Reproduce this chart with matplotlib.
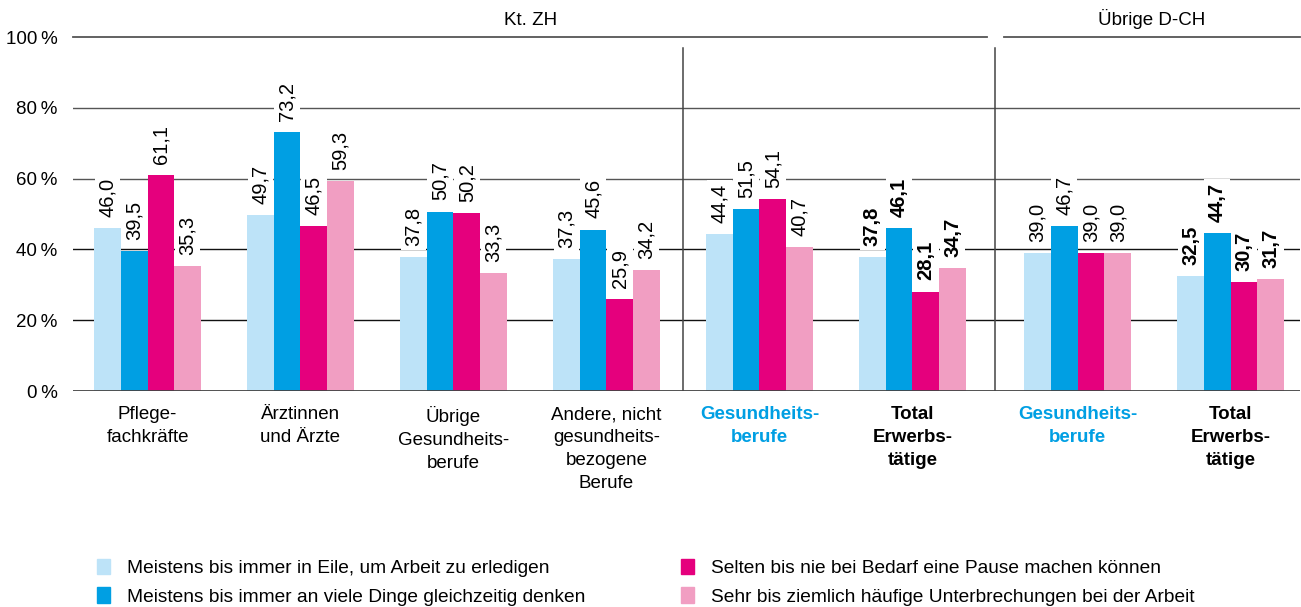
import matplotlib.pyplot as plt
import numpy as np
from matplotlib.patches import Patch

plt.rcParams['font.family'] = ['Liberation Sans', 'DejaVu Sans']

# categories (x axis)
categories = ['Pflege-\nfachkräfte', 'Ärztinnen\nund Ärzte', 'Übrige\nGesundheits-\nberufe',
              'Andere, nicht\ngesundheits-\nbezogene\nBerufe', 'Gesundheits-\nberufe',
              'Total\nErwerbs-\ntätige', 'Gesundheits-\nberufe', 'Total\nErwerbs-\ntätige']
regions = ['Kt. ZH', 'Übrige D-CH']

series_names = ['Meistens bis immer in Eile, um Arbeit zu erledigen',
                'Meistens bis immer an viele Dinge gleichzeitig denken',
                'Selten bis nie bei Bedarf eine Pause machen können',
                'Sehr bis ziemlich häufige Unterbrechungen bei der Arbeit']

eile = [46.0, 49.7, 37.8, 37.3, 44.4, 37.8, 39.0, 32.5]
dinge = [39.5, 73.2, 50.7, 45.6, 51.5, 46.1, 46.7, 44.7]
pause = [61.1, 46.5, 50.2, 25.9, 54.1, 28.1, 39.0, 30.7]
unterbr = [35.3, 59.3, 33.3, 34.2, 40.7, 34.7, 39.0, 31.7]
series = [eile, dinge, pause, unterbr]

colors = ['#bde3f8', '#009fe3', '#e5007d', '#f19ec2']
yticks = [0, 20, 40, 60, 80, 100]

# which categories are "totals" (bold) / highlighted
bold_cat = [False, False, False, False, True, True, True, True]
total_cat = [False, False, False, False, False, True, False, True]

fig = plt.figure(figsize=(13.01, 6.07), dpi=100)
ax = fig.add_axes([73 / 1301, 216 / 607, 1227 / 1301, 354 / 607])

pos = np.arange(len(categories), dtype=float)
pos[6:] += 0.08
w = 0.1745
x0, x1 = -0.487, 7.533

# grid lines
for t in yticks[1:-1]:
    col = '#555555' if t >= 60 else '#111111'
    ax.axhline(t, color=col, lw=1.0, zorder=0)
ax.axhline(0, color='#444444', lw=1.3, zorder=3)
sep1 = (pos[3] + pos[4]) / 2
sep2 = (pos[5] + pos[6]) / 2
ax.plot([x0, sep2 - 0.05], [100, 100], color='#555555', lw=1.3, clip_on=False)
ax.plot([sep2 + 0.055, x1], [100, 100], color='#555555', lw=1.3, clip_on=False)
for s in [sep1, sep2]:
    ax.plot([s, s], [0, 97], color='#444444', lw=1.1, zorder=1)

for i, vals in enumerate(series):
    xs = pos + (i - 1.5) * w
    ax.bar(xs, vals, width=w, color=colors[i], zorder=2)
    for j, (x, v) in enumerate(zip(xs, vals)):
        txt = f'{v:.1f}'.replace('.', ',')
        ax.annotate(txt, (x, v), xytext=(0, 8), textcoords='offset points',
                    rotation=90, ha='center', va='bottom', fontsize=14.5,
                    fontweight='bold' if total_cat[j] else 'normal',
                    bbox=dict(fc='white', ec='none', pad=2.5), zorder=4)

ax.set_xlim(x0, x1)
ax.set_ylim(0, 100)
ax.set_yticks(yticks)
ax.set_yticklabels([f'{t}\u2009%' for t in yticks], fontsize=13.5)
ax.set_xticks(pos)
ax.set_xticklabels(categories, fontsize=13.5, linespacing=1.45, va='top')
for lab, b, t in zip(ax.get_xticklabels(), bold_cat, total_cat):
    if b:
        lab.set_fontweight('bold')
        lab.set_color('black' if t else '#009fe3')
ax.tick_params(axis='both', length=0)
ax.tick_params(axis='x', pad=11)
ax.tick_params(axis='y', pad=11)
for sp in ax.spines.values():
    sp.set_visible(False)

# region headers
ax.annotate(regions[0], ((x0 + sep2 - 0.05) / 2, 100), xytext=(0, 6),
            textcoords='offset points', ha='center', va='bottom', fontsize=13.5,
            annotation_clip=False)
ax.annotate(regions[1], ((sep2 + 0.055 + x1) / 2, 100), xytext=(0, 6),
            textcoords='offset points', ha='center', va='bottom', fontsize=13.5,
            annotation_clip=False)

# legend, two columns
handles = [Patch(color=c) for c in colors]
fig.legend(handles[:2], series_names[:2], loc='upper left',
           bbox_to_anchor=(89 / 1301, 1 - 551 / 607), frameon=False,
           fontsize=13.8, handlelength=0.72, handleheight=0.85,
           handletextpad=0.85, labelspacing=0.55, borderaxespad=0)
fig.legend(handles[2:], series_names[2:], loc='upper left',
           bbox_to_anchor=(673 / 1301, 1 - 551 / 607), frameon=False,
           fontsize=13.8, handlelength=0.72, handleheight=0.85,
           handletextpad=0.85, labelspacing=0.55, borderaxespad=0)

fig.savefig('out.png', dpi=100)
